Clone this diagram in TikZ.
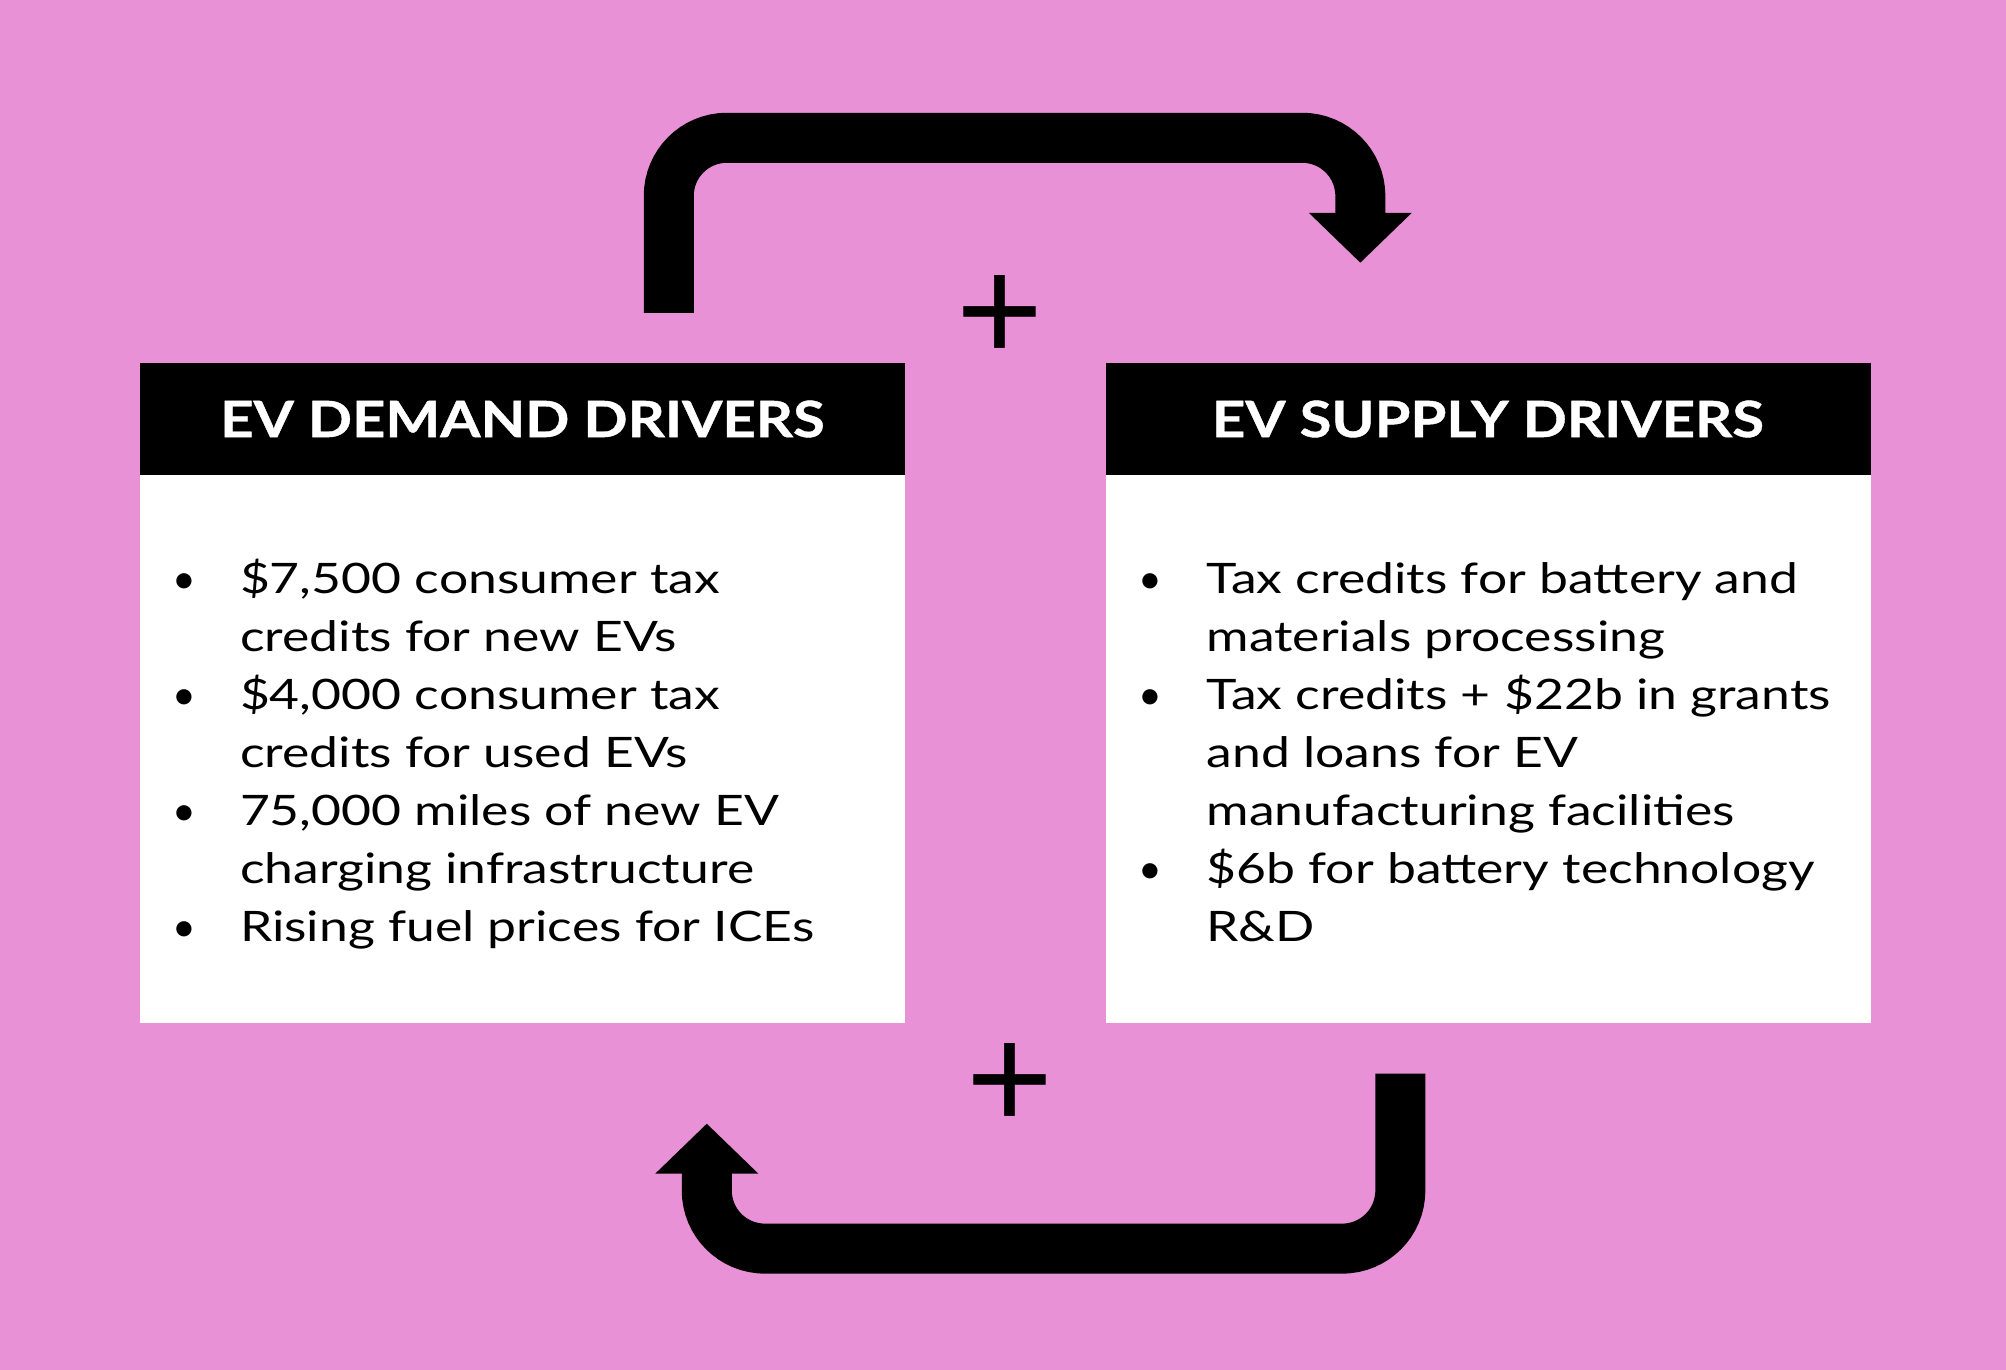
\documentclass[tikz,border=0pt]{standalone}
\usepackage{fontspec}
\setmainfont{Lato}
\newfontfamily\listfont[FakeStretch=1.23]{Lato}
\newfontfamily\headfont[FakeStretch=1.16,FakeBold=0.8]{Lato}
\newfontfamily\plusfont{Liberation Sans}
\usetikzlibrary{arrows.meta,positioning}
\definecolor{loopbg}{RGB}{233,145,214}
\newcommand{\dotitem}{{\normalfont\fontsize{41}{58}\selectfont\textbullet}}

\tikzset{
  headbox/.style={fill=black, text=white, minimum width=765pt, minimum height=112pt, inner sep=0pt,
    font=\headfont\fontsize{50}{60}\selectfont\bfseries},
  bodybox/.style={fill=white, minimum width=765pt, minimum height=548pt, inner sep=0pt},
  listtext/.style={anchor=base west, inner sep=0pt, font=\listfont\fontsize{42}{58}\selectfont},
  feedback/.style={line width=50pt, rounded corners=58pt, -{Triangle[width=100pt,length=50pt]}},
  plussign/.style={anchor=base, inner sep=0pt, font=\plusfont\fontsize{149}{149}\selectfont}
}

\begin{document}
\begin{tikzpicture}[x=1pt, y=-1pt]
  \fill[loopbg] (0,0) rectangle (2006,1370);
  \useasboundingbox (0,0) rectangle (2006,1370);

  \node[headbox] (demandhead) at (522.5,419) {EV DEMAND DRIVERS};
  \node[bodybox, below=0pt of demandhead] (demandbody) {};
  \node[headbox] (supplyhead) at (1488,419) {EV SUPPLY DRIVERS};
  \node[bodybox, below=0pt of supplyhead] (supplybody) {};

  \node[listtext] (demandlist) at ([xshift=32pt,yshift=-118pt]demandhead.south west) {%
    \begin{tabular}[t]{@{}p{68pt}@{}l@{}}
      \dotitem & \$7,500 consumer tax\\
               & credits for new EVs\\
      \dotitem & \$4,000 consumer tax\\
               & credits for used EVs\\
      \dotitem & 75,000 miles of new EV\\
               & charging infrastructure\\
      \dotitem & Rising fuel prices for ICEs
    \end{tabular}};
  \node[listtext] (supplylist) at ([xshift=33pt,yshift=-118pt]supplyhead.south west) {%
    \begin{tabular}[t]{@{}p{68pt}@{}l@{}}
      \dotitem & Tax credits for battery and\\
               & materials processing\\
      \dotitem & Tax credits + \$22b in grants\\
               & and loans for EV\\
               & manufacturing facilities\\
      \dotitem & \$6b for battery technology\\
               & R\&D
    \end{tabular}};

  \coordinate (demandout) at ([xshift=529pt,yshift=50pt]demandhead.north west);
  \coordinate (supplyin) at ([xshift=255pt,yshift=100pt]supplyhead.north west);
  \coordinate (supplyout) at ([xshift=295pt,yshift=-50pt]supplybody.south west);
  \coordinate (demandin) at ([xshift=567pt,yshift=-100pt]demandbody.south west);

  \draw[feedback] (demandout) -- ++(0,-175) -| (supplyin);
  \draw[feedback] (supplyout) -- ++(0,175) -| (demandin);

  \node[plussign] (plustop) at (1000,361) {+};
  \node[plussign] (plusbottom) at (1010,1129) {+};
\end{tikzpicture}
\end{document}
